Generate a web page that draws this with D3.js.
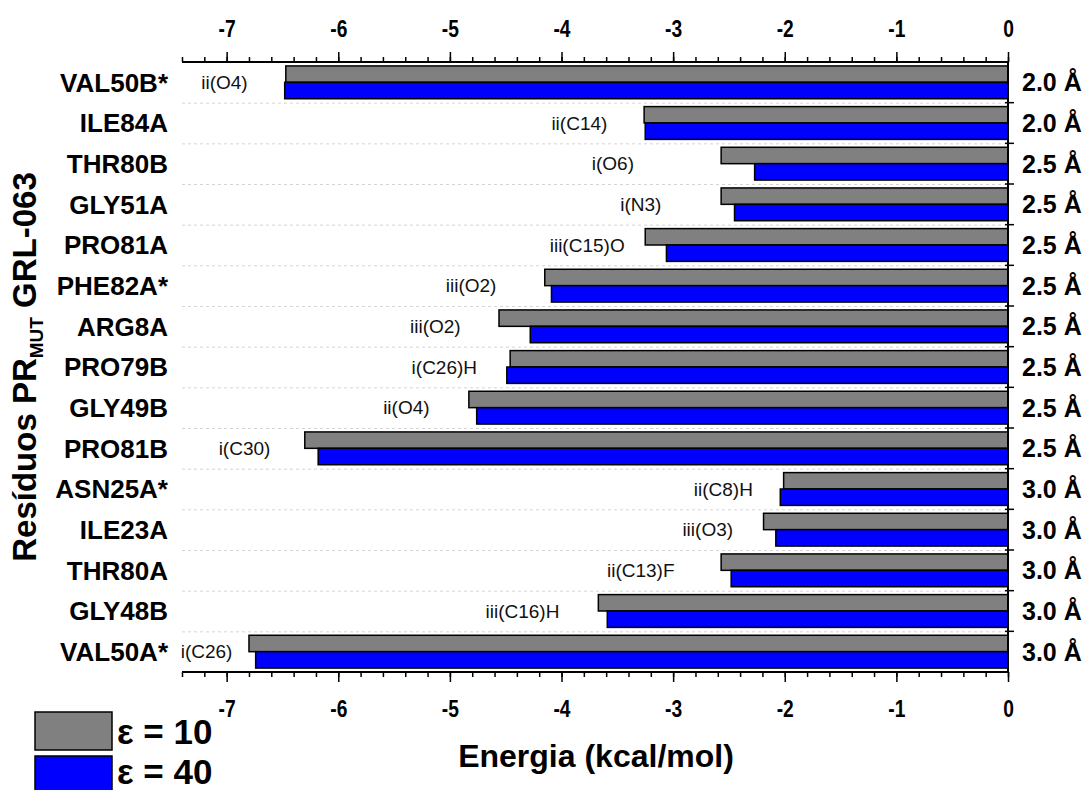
<!DOCTYPE html>
<html>
<head>
<meta charset="utf-8">
<script src="https://cdn.jsdelivr.net/npm/d3@7"></script>
<style>
  body { margin: 0; background: #fff; }
  svg { font-family: "Liberation Sans", Arial, sans-serif; }
  .grid line { stroke: #d4d4d4; stroke-dasharray: 3,3; }
  .bar { stroke: #000; stroke-width: 1.5; }
</style>
</head>
<body>
<svg width="1088" height="790"></svg>
<script>
// Residues, top to bottom
const residues = ["VAL50B*", "ILE84A", "THR80B", "GLY51A", "PRO81A", "PHE82A*", "ARG8A",
    "PRO79B", "GLY49B", "PRO81B", "ASN25A*", "ILE23A", "THR80A", "GLY48B", "VAL50A*"];
// Interaction energy (kcal/mol) for each dielectric constant
const eps10 = [-6.47, -3.26, -2.57, -2.57, -3.25, -4.15, -4.56, -4.46, -4.83, -6.30, -2.01, -2.19, -2.57, -3.67, -6.80];
const eps40 = [-6.48, -3.25, -2.27, -2.45, -3.06, -4.09, -4.28, -4.49, -4.76, -6.18, -2.04, -2.08, -2.48, -3.59, -6.74];
// Ligand atom in contact, and where its note sits (kcal/mol)
const contacts = ["ii(O4)", "ii(C14)", "i(O6)", "i(N3)", "iii(C15)O", "iii(O2)", "iii(O2)",
    "i(C26)H", "ii(O4)", "i(C30)", "ii(C8)H", "iii(O3)", "ii(C13)F", "iii(C16)H", "i(C26)"];
const contactAt = [-7.02, -3.84, -3.54, -3.29, -3.77, -4.81, -5.13, -5.05, -5.39, -6.84, -2.55, -2.69, -3.29, -4.35, -7.18];
// Contact distance
const distances = ["2.0 Å", "2.0 Å", "2.5 Å", "2.5 Å", "2.5 Å", "2.5 Å", "2.5 Å", "2.5 Å",
    "2.5 Å", "2.5 Å", "3.0 Å", "3.0 Å", "3.0 Å", "3.0 Å", "3.0 Å"];
const series = ["ε = 10", "ε = 40"];
const colors = ["#808080", "#0000ff"];
const xTicks = [-7, -6, -5, -4, -3, -2, -1, 0];

let svg = d3.select('svg');
let x0 = 182, x1 = 1008, y0 = 62, y1 = 672;

let x = d3.scaleLinear().domain([-7.4, 0]).range([x0, x1]);
let y = d3.scaleBand().domain(residues).range([y0, y1]);
let sub = d3.scaleBand().domain(series).range([0, y.bandwidth()]).paddingOuter(0.24);

let rows = residues.map((r, i) => ({
    residue: r, values: [eps10[i], eps40[i]], contact: contacts[i], at: contactAt[i], dist: distances[i]
}));

// dashed row separators
svg.append('g')
    .attr('class', 'grid')
  .selectAll('line')
  .data(residues.slice(1))
  .enter().append('line')
    .attr('x1', x0).attr('x2', x1)
    .attr('y1', (d) => y(d) + 0.5).attr('y2', (d) => y(d) + 0.5);

// bars
let row = svg.append('g').selectAll('g')
  .data(rows)
  .enter().append('g')
    .attr('transform', (d) => `translate(0,${y(d.residue)})`);

row.selectAll('rect')
  .data((d) => d.values.map((v, k) => ({ key: series[k], value: v, k: k })))
  .enter().append('rect')
    .attr('class', 'bar')
    .attr('x', (d) => x(d.value))
    .attr('y', (d) => sub(d.key))
    .attr('width', (d) => x(0) - x(d.value))
    .attr('height', sub.bandwidth())
    .attr('fill', (d) => colors[d.k]);

// contact notes
row.append('text')
    .attr('x', (d) => x(d.at))
    .attr('y', y.bandwidth() / 2)
    .attr('dy', '0.35em')
    .attr('text-anchor', 'middle')
    .attr('font-size', 19)
    .attr('fill', '#111')
    .text((d) => d.contact);

// residue names
row.append('text')
    .attr('x', 168)
    .attr('y', y.bandwidth() / 2)
    .attr('dy', '0.36em')
    .attr('text-anchor', 'end')
    .attr('font-size', 26)
    .attr('font-weight', 'bold')
    .text((d) => d.residue);

// distances
row.append('text')
    .attr('x', 1022)
    .attr('y', y.bandwidth() / 2)
    .attr('dy', '0.36em')
    .attr('font-size', 25)
    .attr('font-weight', 'bold')
    .text((d) => d.dist);

// top and bottom axes
function drawAxis(axisFn, ypos, labelY) {
    let g = svg.append('g').attr('transform', `translate(0,${ypos})`);
    g.call(axisFn(x).tickValues(d3.range(-7.4, 0.01, 0.2)).tickSize(5).tickFormat(''))
        .select('.domain').remove();
    let major = svg.append('g').attr('transform', `translate(0,${ypos})`);
    major.call(axisFn(x).tickValues(xTicks).tickSize(10).tickSizeOuter(0).tickFormat((d) => String(d)));
    major.select('.domain').attr('stroke-width', 2).attr('d', `M${x0},0H${x1 + 1}`);
    g.selectAll('line').attr('stroke-width', 1.5);
    major.selectAll('line').attr('stroke-width', 1.5);
    major.selectAll('text')
        .attr('y', null).attr('dy', null)
        .attr('transform', `translate(0,${labelY}) scale(0.8,1)`)
        .attr('dominant-baseline', 'central')
        .attr('font-size', 24)
        .attr('font-weight', 'bold')
        .attr('font-family', '"Liberation Sans", Arial, sans-serif')
        .attr('fill', '#000');
}
drawAxis(d3.axisTop, y0, -33);
drawAxis(d3.axisBottom, y1, 37);

// right frame with ticks at row borders
let r = svg.append('g').attr('transform', `translate(${x1},0)`);
r.append('line')
    .attr('y1', y0).attr('y2', y1)
    .attr('stroke', '#000').attr('stroke-width', 2);
r.selectAll('.rt')
  .data(residues.slice(1))
  .enter().append('line')
    .attr('class', 'rt')
    .attr('x1', -3).attr('x2', 6)
    .attr('y1', (d) => y(d)).attr('y2', (d) => y(d))
    .attr('stroke', '#000').attr('stroke-width', 1.5);

// axis titles
svg.append('text')
    .attr('x', 596)
    .attr('y', 767)
    .attr('text-anchor', 'middle')
    .attr('font-size', 32)
    .attr('font-weight', 'bold')
    .text('Energia (kcal/mol)');

let yt = svg.append('text')
    .attr('transform', 'translate(36,367) rotate(-90)')
    .attr('text-anchor', 'middle')
    .attr('font-size', 33)
    .attr('font-weight', 'bold');
yt.append('tspan').text('Resíduos PR');
yt.append('tspan').attr('font-size', 19).attr('dy', 7).text('MUT');
yt.append('tspan').attr('dy', -7).text(' GRL-063');

// legend
let lg = svg.append('g').selectAll('g')
  .data(series)
  .enter().append('g')
    .attr('transform', (d, i) => `translate(35,${712 + i * 44})`);
lg.append('rect')
    .attr('width', 77).attr('height', 38)
    .attr('fill', (d, i) => colors[i])
    .attr('stroke', '#000').attr('stroke-width', 1.5);
lg.append('text')
    .attr('x', 82).attr('y', (d, i) => i ? 15 : 19)
    .attr('dy', '0.36em')
    .attr('font-size', 35)
    .attr('font-weight', 'bold')
    .text((d) => d);
</script>
</body>
</html>
